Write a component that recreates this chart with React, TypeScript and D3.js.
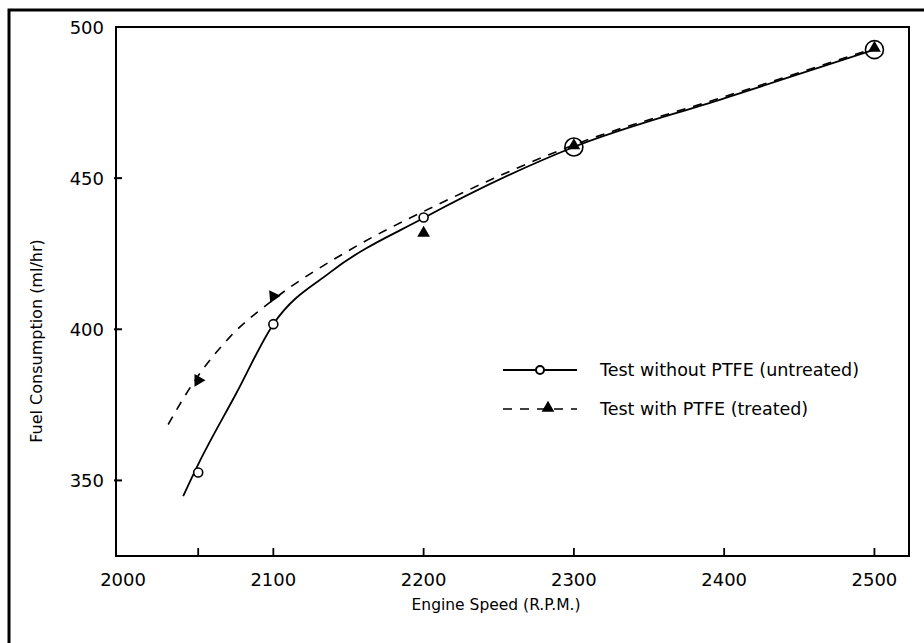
import React, { useEffect, useRef } from 'react';
import * as d3 from 'd3';

// measured points
const rpm = [2050, 2100, 2200, 2300, 2500];
const untreated = [352.6, 401.7, 437.0, 460.3, 492.5];
const treated = [383.1, 410.9, 431.8, 460.8, 493.0];

// hand drawn curves through the points
const untreatedCurveRpm = [2040, 2050, 2075, 2100, 2138, 2200, 2300, 2400, 2500];
const untreatedCurveVal = [344.8, 355.3, 378.5, 401.7, 418.9, 436.8, 460.3, 476.4, 492.5];
const treatedCurveRpm = [2030, 2047, 2071, 2100, 2150, 2213, 2300, 2400, 2500];
const treatedCurveVal = [368.5, 382.5, 397.4, 409.8, 426.0, 442.1, 461.0, 476.9, 493.0];

const xTicks = [2000, 2100, 2200, 2300, 2400, 2500];
const xMinorTicks = [2050, 2100, 2200, 2300, 2400, 2500];
const yTicks = [350, 400, 450, 500];

const W = 924, H = 643;
const margin = { left: 116, top: 27, right: 15, bottom: 87 };
const font = 'DejaVu Sans, sans-serif';

// the triangles were drawn by hand, some turned
const triTurn = [90, -35, 0, 0, 0];

export default function App() {
    const ref = useRef<SVGSVGElement>(null);

    useEffect(() => {
        const svg = d3.select(ref.current);
        svg.selectAll('*').remove();

        const x = d3.scaleLinear().domain([1995.3, 2523]).range([margin.left, W - margin.right]);
        const y = d3.scaleLinear().domain([325, 500]).range([H - margin.bottom, margin.top]);

        svg.append('rect').attr('width', W).attr('height', H).attr('fill', '#fff');

        // outer frame (only left and top fit in the picture)
        svg.append('path')
            .attr('d', `M9,${H + 5} L9,10 L${W + 5},10`)
            .attr('fill', 'none').attr('stroke', '#000').attr('stroke-width', 3);

        // plot box
        svg.append('rect')
            .attr('x', x(1995.3)).attr('y', y(500))
            .attr('width', x(2523) - x(1995.3)).attr('height', y(325) - y(500))
            .attr('fill', 'none').attr('stroke', '#000').attr('stroke-width', 2);

        // x ticks (inside)
        svg.append('g').selectAll('line').data(xMinorTicks).enter().append('line')
            .attr('x1', d => x(d)).attr('x2', d => x(d))
            .attr('y1', y(325)).attr('y2', y(325) - 8)
            .attr('stroke', '#000').attr('stroke-width', 1.8);

        svg.append('g').selectAll('text').data(xTicks).enter().append('text')
            .attr('x', d => x(d)).attr('y', y(325) + 30)
            .attr('text-anchor', 'middle')
            .attr('font-family', font).attr('font-size', 18)
            .text(d => d);

        // y ticks
        svg.append('g').selectAll('line').data(yTicks.filter(d => d < 500)).enter().append('line')
            .attr('x1', x(1995.3) - 2).attr('x2', x(1995.3) + 6)
            .attr('y1', d => y(d)).attr('y2', d => y(d))
            .attr('stroke', '#000').attr('stroke-width', 2);

        svg.append('g').selectAll('text').data(yTicks).enter().append('text')
            .attr('x', x(1995.3) - 12).attr('y', d => y(d) + 7)
            .attr('text-anchor', 'end')
            .attr('font-family', font).attr('font-size', 18)
            .text(d => d);

        // axis titles
        svg.append('text')
            .attr('x', 496).attr('y', 610)
            .attr('text-anchor', 'middle')
            .attr('font-family', font).attr('font-size', 15.5)
            .text('Engine Speed (R.P.M.)');

        svg.append('text')
            .attr('transform', `translate(42,341) rotate(-90)`)
            .attr('text-anchor', 'middle')
            .attr('font-family', font).attr('font-size', 16)
            .text('Fuel Consumption (ml/hr)');

        const line = d3.line<[number, number]>()
            .x(d => x(d[0])).y(d => y(d[1]))
            .curve(d3.curveMonotoneX);

        svg.append('path')
            .attr('d', line(treatedCurveRpm.map((r, i) => [r, treatedCurveVal[i]]) as [number, number][]))
            .attr('fill', 'none').attr('stroke', '#000').attr('stroke-width', 1.6)
            .attr('stroke-dasharray', '9,8');

        svg.append('path')
            .attr('d', line(untreatedCurveRpm.map((r, i) => [r, untreatedCurveVal[i]]) as [number, number][]))
            .attr('fill', 'none').attr('stroke', '#000').attr('stroke-width', 1.8);

        // markers
        const tri = d3.symbol().type(d3.symbolTriangle).size(70);
        rpm.forEach((r, i) => {
            const same = Math.abs(untreated[i] - treated[i]) < 2;
            svg.append('path')
                .attr('d', tri())
                .attr('transform', `translate(${x(r)},${y(treated[i])}) rotate(${triTurn[i]})`)
                .attr('fill', '#000');
            svg.append('circle')
                .attr('cx', x(r)).attr('cy', y(untreated[i]))
                .attr('r', same ? 9 : 4.5)
                .attr('fill', same ? 'none' : '#fff')
                .attr('stroke', '#000').attr('stroke-width', 1.6);
        });

        // legend
        const lg = svg.append('g');
        lg.append('line').attr('x1', 503).attr('x2', 577).attr('y1', 370).attr('y2', 370)
            .attr('stroke', '#000').attr('stroke-width', 1.8);
        lg.append('circle').attr('cx', 540).attr('cy', 370).attr('r', 4)
            .attr('fill', '#fff').attr('stroke', '#000').attr('stroke-width', 2);
        lg.append('text').attr('x', 600).attr('y', 376)
            .attr('font-family', font).attr('font-size', 17.5)
            .text('Test without PTFE (untreated)');

        lg.append('line').attr('x1', 503).attr('x2', 577).attr('y1', 409).attr('y2', 409)
            .attr('stroke', '#000').attr('stroke-width', 1.6).attr('stroke-dasharray', '9,8');
        lg.append('path').attr('d', tri()).attr('transform', 'translate(548,408)').attr('fill', '#000');
        lg.append('text').attr('x', 600).attr('y', 415)
            .attr('font-family', font).attr('font-size', 17.5)
            .text('Test with PTFE (treated)');
    }, []);

    return (
        <svg ref={ref} width={W} height={H}
            style={{ position: 'absolute', left: 0, top: 0, display: 'block' }} />
    );
}
